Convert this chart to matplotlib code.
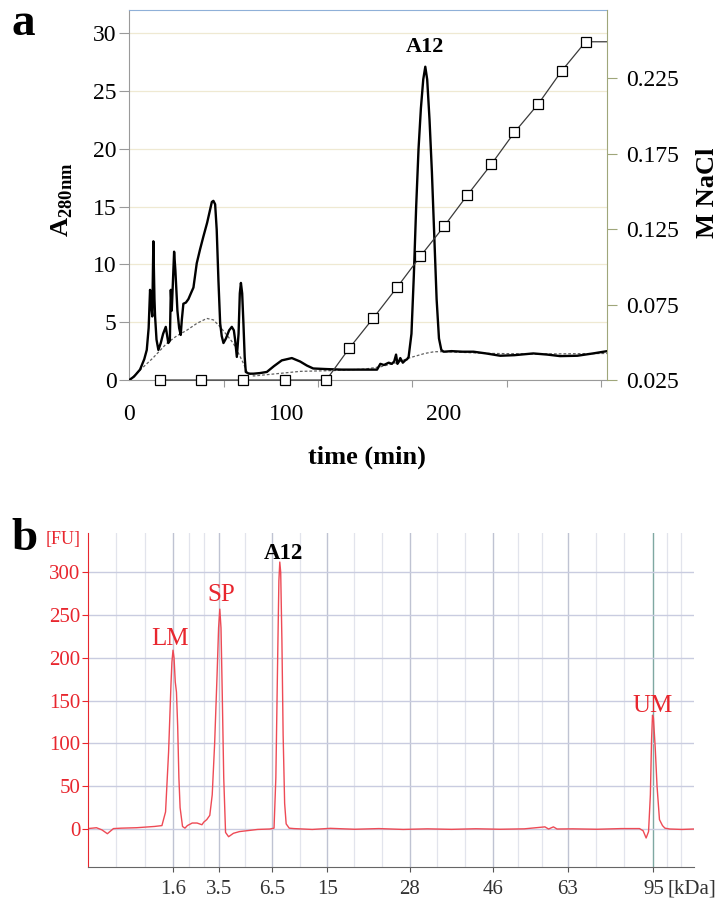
import numpy as np
import matplotlib
matplotlib.use("Agg")
import matplotlib.pyplot as plt

plt.rcParams["font.family"] = ["Liberation Serif", "DejaVu Serif"]
plt.rcParams["mathtext.fontset"] = "custom"
plt.rcParams["mathtext.rm"] = "Liberation Serif"
plt.rcParams["mathtext.bf"] = "Liberation Serif:bold"

# ---- panel a: anion exchange chromatogram ----
time_min = [0, 3, 6.8, 9.5, 11.1, 12.3, 13.2, 13.9, 14.6, 15.3, 16.0, 16.4, 17.3, 18.5,
            20, 21.5, 23.2, 24.8, 25.8, 26.4, 27.0, 27.6, 28.5, 29.3, 30.6, 31.7, 32.7,
            33.4, 34.4, 36, 37.6, 39.5, 40.8, 42.9, 45, 47.1, 49.5, 52.5, 53.5, 54.6,
            55.6, 56.7, 57.8, 58.8, 59.9, 61.5, 63.5, 65.2, 66.5, 67.3, 68.4, 69.5, 70.3,
            71.0, 71.8, 72.6, 73.4, 74.1, 76, 79, 83, 87.5, 92, 97, 103.4, 108.7, 113,
            117, 125, 135, 145, 152, 157.6, 159.7, 162, 165, 167, 168.5, 169.7, 170.6,
            171.5, 172.4, 174, 175.5, 176.7, 177.7, 179.5, 181, 182.5, 184, 185.5, 187,
            188.3, 189.5, 191, 192.5, 194, 195.5, 197, 198.5, 200, 205, 212, 219, 227,
            236, 245, 257, 266, 274, 285, 295, 304]
a280 = [0, 0.3, 0.9, 1.8, 2.6, 4.5, 7.8, 6.5, 5.5, 12.0, 7.0, 5.5, 3.5, 2.6,
        3.2, 4.0, 4.6, 3.2, 3.4, 7.8, 6.0, 8.0, 11.1, 9.5, 6.0, 4.5, 3.9,
        5.2, 6.6, 6.7, 7.0, 7.6, 8.0, 10.1, 11.3, 12.4, 13.6, 15.4, 15.5, 15.2,
        13.0, 8.6, 4.9, 3.8, 3.2, 3.6, 4.3, 4.6, 4.3, 3.5, 2.0, 4.0, 7.5,
        8.4, 7.5, 4.9, 2.0, 0.7, 0.55, 0.55, 0.6, 0.7, 1.2, 1.7, 1.9, 1.6, 1.25,
        1.0, 0.95, 0.9, 0.9, 0.9, 0.9, 1.4, 1.3, 1.5, 1.4, 1.6, 2.2, 1.4,
        1.6, 1.9, 1.5, 1.7, 1.8, 2.0, 4.0, 9.0, 15.0, 20.0, 23.5, 26.0,
        27.1, 26.0, 22.5, 18.0, 12.5, 7.0, 3.6, 2.6, 2.45, 2.5, 2.45, 2.45, 2.3,
        2.1, 2.15, 2.3, 2.2, 2.07, 2.1, 2.3, 2.5]

base_time = [0, 2.5, 6.8, 15, 23.8, 30, 36.5, 43, 49.3, 53.5, 57.8, 62, 66.2, 69.5,
             72.6, 74.8, 79, 91.7, 108.7, 130, 150, 160, 170, 179, 188, 194, 200,
             230, 260, 304]
base_a280 = [0, 0.3, 0.86, 1.9, 3.17, 3.8, 4.3, 4.9, 5.33, 5.2, 4.6, 3.9, 3.17, 2.3,
             1.44, 0.72, 0.35, 0.52, 0.75, 0.82, 0.95, 1.15, 1.5, 1.95, 2.3, 2.45, 2.45,
             2.3, 2.25, 2.3]

grad_time = [19.6, 45.8, 72.4, 99.2, 125.3, 139.9, 155.2, 170.5, 185.2, 200.4,
             215.1, 230.4, 245.0, 260.3, 275.0, 290.3, 304]
grad_nacl = [0.025, 0.025, 0.025, 0.025, 0.025, 0.046, 0.066, 0.0866, 0.107, 0.127,
             0.1475, 0.168, 0.189, 0.208, 0.2296, 0.249, 0.249]

# ---- panel b: Bioanalyzer electropherogram ----
kda_labels = ["1.6", "3.5", "6.5", "15", "28", "46", "63", "95"]
kda_pos = [14.03, 21.7, 30.4, 39.5, 53.1, 66.9, 79.2, 93.3]
minor_grid = [4.6, 9.4, 16.6, 19.1, 25.9, 35.0, 43.9, 48.5, 57.6, 62.2, 71.0, 74.9,
              83.8, 88.4, 95.6, 97.8]

mig = [0, 1.4, 2.3, 3.2, 4.2, 5.5, 8, 11, 12.2, 12.8, 13.3, 13.7, 13.85, 14.03, 14.2,
       14.4, 14.6, 14.8, 15.0, 15.2, 15.6, 16.0, 16.4, 17.2, 18.0, 18.8, 19.1, 19.6,
       20.1, 20.5, 20.9, 21.3, 21.55, 21.75, 21.95, 22.15, 22.4, 22.7, 23.2, 24.0,
       25.0, 26.2, 28.0, 30.0, 30.7, 31.0, 31.3, 31.5, 31.65, 31.8, 32.0, 32.2, 32.45,
       32.7, 33.2, 34, 37, 40, 44, 48, 52, 56, 60, 64, 68, 72, 75.4, 76.0, 76.8, 77.4,
       80, 84, 88, 91.0, 91.6, 92.1, 92.5, 92.8, 93.0, 93.15, 93.3, 93.6, 93.9, 94.3,
       94.8, 95.2, 96, 98, 100]
fu = [0.5, 1.5, -1, -5.5, 0.5, 1.0, 1.5, 3, 4, 20, 90, 170, 195, 209, 200,
      172, 160, 120, 60, 25, 3, 1, 4, 7, 7, 5, 8, 11,
      16, 40, 100, 180, 235, 257, 235, 160, 60, -4, -9, -5,
      -3, -2, -0.5, 0, 1, 60, 200, 290, 312, 300, 220, 110, 30,
      6, 1, 0.5, -0.5, 0.8, -0.3, 0.5, -0.5, 0.2, -0.4, 0.3, -0.3, 0.2, 2.5, 0, 2.5, 0,
      0.2, -0.3, 0.5, 0.5, -2, -10.5, -3, 40, 105, 133, 130, 95, 50, 11,
      4, 1, 0, -0.5, 0]
peak_names = ["LM", "SP", "A12", "UM"]
peak_guess = [14, 21.8, 31.7, 93.2]

fig = plt.figure(figsize=(7.2, 8.98), dpi=100)

# ================= panel a =================
ax = fig.add_axes([0.1796, 0.5768, 0.6628, 0.4120])
ax2 = ax.twinx()

ax.yaxis.grid(True, color="#efe9d2", lw=0.9)
ax.set_axisbelow(True)
ax.plot(base_time, base_a280, color="#606060", lw=0.9, ls=(0, (2.2, 1.6)), zorder=2)
ax.plot(time_min, a280, color="black", lw=1.7, zorder=3)

ax2.plot(grad_time, grad_nacl, color="#3a3a3a", lw=0.9, marker="s", ms=6.5,
         mfc="white", mec="black", mew=0.9, markevery=list(range(len(grad_time) - 1)),
         clip_on=False)

ax.set_xlim(0, 303.6)
ax.set_ylim(0, 32)
ax2.set_ylim(0.025, 0.27)

ax.set_yticks(range(0, 31, 5))
ax.set_xticks([0, 100, 200])
ax.set_xticks(range(0, 301, 60), minor=True)
ax.tick_params(axis="x", which="major", length=0, pad=17, labelsize=17)
ax.tick_params(axis="x", which="minor", length=5, width=0.8, color="#9a9a9a")
ax.tick_params(axis="y", length=7, width=0.8, color="#9a9a9a", pad=2, labelsize=17)
ax2.set_yticks([0.025, 0.075, 0.125, 0.175, 0.225])
ax2.set_yticklabels(["0.025", "0.075", "0.125", "0.175", "0.225"])
ax2.tick_params(axis="y", length=7, width=0.8, color="#9fa67a", pad=7, labelsize=17)

for s in ["left", "bottom"]:
    ax.spines[s].set_color("#9a9a9a")
ax.spines["top"].set_color("#8fb0d8")
ax.spines["right"].set_visible(False)
for s in ["left", "bottom", "top"]:
    ax2.spines[s].set_visible(False)
ax2.spines["right"].set_color("#9fa67a")

ipk = int(np.argmax(a280))
ax.annotate("A12", xy=(time_min[ipk], a280[ipk]), xytext=(0, 10.5),
            textcoords="offset points", ha="center", va="baseline",
            fontsize=16, fontweight="bold")

fig.text(62 / 720, 1 - 200 / 898, r"$\mathbf{A}_{\mathbf{280nm}}$", rotation=90,
         ha="center", va="center", fontsize=19)
fig.text(708 / 720, 1 - 193 / 898, "M NaCl", rotation=90, ha="center", va="center",
         fontsize=19, fontweight="bold")
fig.text(367 / 720, 1 - 457 / 898, "time (min)", ha="center", va="center",
         fontsize=19, fontweight="bold")
fig.text(23 / 720, 1 - 24 / 898, "a", ha="center", va="center", fontsize=34,
         fontweight="bold")

# ================= panel b =================
red = "#e8262e"
axb = fig.add_axes([0.1222, 0.0349, 0.8417, 0.3716])
axb.set_xlim(0, 100)
axb.set_ylim(-44, 346)
axb.set_yticks(range(0, 301, 50))
axb.set_xticks(kda_pos)
axb.set_xticklabels(kda_labels)
axb.set_xticks(minor_grid, minor=True)
axb.grid(which="minor", axis="x", color="#e2e4ec", lw=0.9)
axb.grid(which="major", axis="x", color="#bfc3d2", lw=1.0)
axb.grid(which="major", axis="y", color="#c9cce0", lw=1.0)
axb.get_xgridlines()[-1].set_color("#7fa8a2")
axb.set_axisbelow(True)

axb.plot(mig, fu, color="#ee4a55", lw=1.0)

axb.tick_params(axis="x", which="major", length=3.5, width=0.8, color="#555555",
                pad=6, labelsize=15, labelcolor="#333333")
axb.tick_params(axis="x", which="minor", length=0)
axb.tick_params(axis="y", length=4, width=0.8, color=red, labelcolor=red,
                pad=1.5, labelsize=15)
axb.spines["top"].set_visible(False)
axb.spines["right"].set_visible(False)
axb.spines["left"].set_color(red)
axb.spines["bottom"].set_color("#666666")

mig_arr = np.array(mig)
fu_arr = np.array(fu)
label_offsets = [(-2, 4), (1, 5.5), (2.5, 2), (0, 2)]
for name, guess, off in zip(peak_names, peak_guess, label_offsets):
    win = np.abs(mig_arr - guess) < 1.5
    j = np.flatnonzero(win)[np.argmax(fu_arr[win])]
    bold = name == "A12"
    axb.annotate(name, xy=(mig_arr[j], fu_arr[j]), xytext=off,
                 textcoords="offset points", ha="center", va="baseline",
                 fontsize=16.5 if bold else 18,
                 fontweight="bold" if bold else "normal",
                 color="black" if bold else red)

axb.text(-0.041, 0.979, "[FU]", transform=axb.transAxes, ha="center", va="center",
         fontsize=13, color=red)
axb.annotate("[kDa]", xy=(0.957, 0), xycoords="axes fraction", xytext=(0, -9.5),
             textcoords="offset points", ha="left", va="top", fontsize=15,
             color="#333333")
fig.text(24 / 720, 1 - 539 / 898, "b", ha="center", va="center", fontsize=34,
         fontweight="bold")

fig.savefig("out.png", dpi=100)
plt.close(fig)
